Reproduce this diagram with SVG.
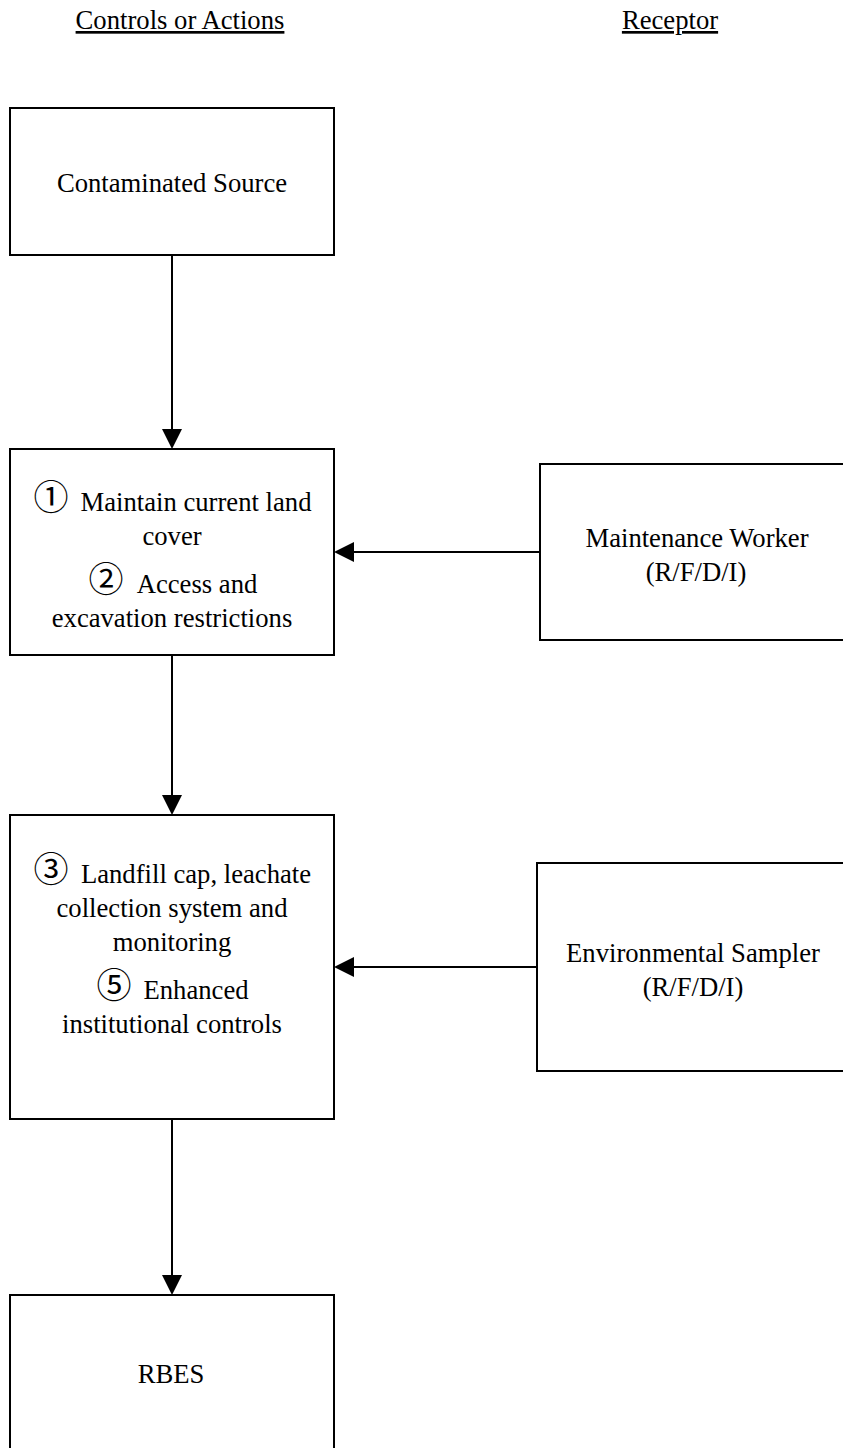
<svg xmlns="http://www.w3.org/2000/svg" width="843" height="1448" viewBox="0 0 843 1448">
  <style>
    .box { fill: #ffffff; stroke: #000000; stroke-width: 2; }
    .lbl { font-family: "Liberation Serif", "Times New Roman", serif; font-size: 26.67px; fill: #000000; text-anchor: middle; }
    .num { font-family: "Noto Sans CJK JP", "DejaVu Sans", sans-serif; font-size: 35px; }
    .hdr { text-decoration: underline; }
    .link { fill: none; stroke: #000000; stroke-width: 2; }
  </style>
  <defs>
    <marker id="arrow" markerUnits="userSpaceOnUse" markerWidth="20" markerHeight="20" refX="0" refY="10" orient="auto">
      <path d="M0,0 L20,10 L0,20 z" fill="#000000"/>
    </marker>
  </defs>

  <rect width="843" height="1448" fill="#ffffff"/>

  <!-- column headings -->
  <g id="headings">
    <text class="lbl hdr" x="180" y="29">Controls or Actions</text>
    <text class="lbl hdr" x="670" y="29">Receptor</text>
  </g>

  <!-- connectors -->
  <g id="connectors">
    <path class="link" d="M172,255 V429" marker-end="url(#arrow)"/>
    <path class="link" d="M172,655 V795" marker-end="url(#arrow)"/>
    <path class="link" d="M172,1119 V1275" marker-end="url(#arrow)"/>
    <path class="link" d="M540,552 H354" marker-end="url(#arrow)"/>
    <path class="link" d="M537,967 H354" marker-end="url(#arrow)"/>
  </g>

  <g id="source">
    <rect class="box" x="10" y="108" width="324" height="147"/>
    <text class="lbl" x="172" y="192">Contaminated Source</text>
  </g>

  <g id="controls-1-2">
    <rect class="box" x="10" y="449" width="324" height="206"/>
    <text class="lbl"><tspan class="num" x="51" y="510">①</tspan><tspan x="196" y="511">Maintain current land</tspan></text>
    <text class="lbl" x="172" y="545">cover</text>
    <text class="lbl"><tspan class="num" x="106" y="592">②</tspan><tspan x="197" y="593">Access and</tspan></text>
    <text class="lbl" x="172" y="627">excavation restrictions</text>
  </g>

  <g id="maintenance-worker">
    <rect class="box" x="540" y="464" width="320" height="176"/>
    <text class="lbl" x="697" y="547">Maintenance Worker</text>
    <text class="lbl" x="696" y="581">(R/F/D/I)</text>
  </g>

  <g id="controls-3-5">
    <rect class="box" x="10" y="815" width="324" height="304"/>
    <text class="lbl"><tspan class="num" x="51" y="882">③</tspan><tspan x="196" y="883">Landfill cap, leachate</tspan></text>
    <text class="lbl" x="172" y="917">collection system and</text>
    <text class="lbl" x="172" y="951">monitoring</text>
    <text class="lbl"><tspan class="num" x="114" y="998">⑤</tspan><tspan x="196" y="999">Enhanced</tspan></text>
    <text class="lbl" x="172" y="1033">institutional controls</text>
  </g>

  <g id="environmental-sampler">
    <rect class="box" x="537" y="863" width="320" height="208"/>
    <text class="lbl" x="693" y="962">Environmental Sampler</text>
    <text class="lbl" x="693" y="996">(R/F/D/I)</text>
  </g>

  <g id="rbes">
    <rect class="box" x="10" y="1295" width="324" height="170"/>
    <text class="lbl" x="171" y="1383">RBES</text>
  </g>
</svg>
